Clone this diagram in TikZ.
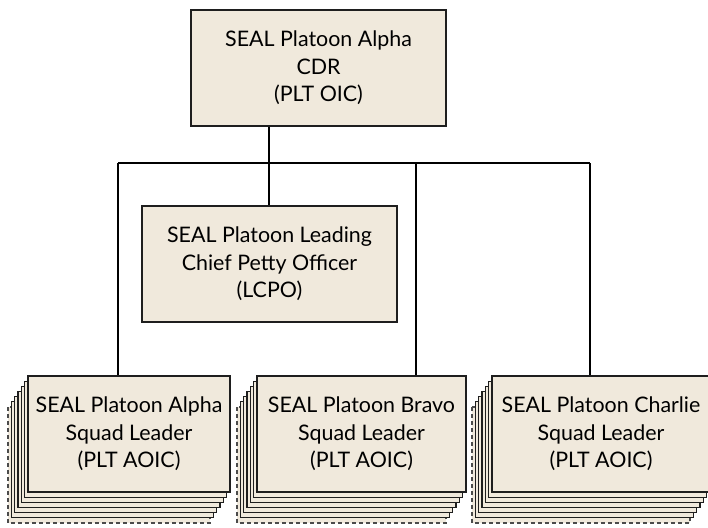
\documentclass[tikz,border=0pt]{standalone}
\usepackage{fontspec}
\setmainfont{Lato}
\definecolor{boxfill}{RGB}{240,233,220}
\definecolor{boxline}{RGB}{30,30,30}
\tikzset{
  orgbox/.style={draw=boxline, line width=1.3pt, fill=boxfill, align=center,
    inner sep=0pt, minimum height=116pt,
    font=\fontsize{21.4}{27.5}\selectfont, text=black},
  stackbox/.style={draw=boxline, line width=1.1pt, fill=boxfill},
  rearbox/.style={draw=boxline!80, line width=1.2pt, fill=boxfill, dash pattern=on 4pt off 3pt},
  link/.style={line width=2pt, draw=black},
}
\begin{document}
\begin{tikzpicture}[x=1pt,y=-1pt]
\useasboundingbox (0,0) rectangle (708,527);
% stacked copies behind the squad boxes
\foreach \l/\r in {28/230, 257/466, 492/710}{
  \foreach \k in {6,5,4,3,2,1}{
    \pgfmathsetmacro{\dx}{-3.33*\k}
    \pgfmathsetmacro{\dy}{5.17*\k}
    \ifnum\k=6
      \draw[rearbox] (\l+\dx,376+\dy) rectangle (\r+\dx,492+\dy);
    \else
      \draw[stackbox] (\l+\dx,376+\dy) rectangle (\r+\dx,492+\dy);
    \fi
  }
}
% nodes
\node[orgbox, minimum width=255pt] (top) at (318.5,68) {SEAL Platoon Alpha\\CDR\\(PLT OIC)};
\node[orgbox, minimum width=255pt] (lcpo) at (269.5,264) {SEAL Platoon Leading\\Chief Petty Officer\\(LCPO)};
\node[orgbox, minimum width=202pt] (sa) at (129,434) {SEAL Platoon Alpha\\Squad Leader\\(PLT AOIC)};
\node[orgbox, minimum width=209pt] (sb) at (361.5,434) {SEAL Platoon Bravo\\Squad Leader\\(PLT AOIC)};
\node[orgbox, minimum width=218pt] (sc) at (601,434) {SEAL Platoon Charlie\\Squad Leader\\(PLT AOIC)};
% connectors
\coordinate (j0) at (269,163);
\coordinate (hl) at (118,163);
\coordinate (hb) at (416,163);
\coordinate (hr) at (590,163);
\draw[link] (top.south -| j0) -- (j0);
\draw[link] (hl) -- (hr);
\draw[link] (j0) -- (j0 |- lcpo.north);
\draw[link] (hl) -- (hl |- sa.north);
\draw[link] (hb) -- (hb |- sb.north);
\draw[link] (hr) -- (hr |- sc.north);
\end{tikzpicture}
\end{document}
